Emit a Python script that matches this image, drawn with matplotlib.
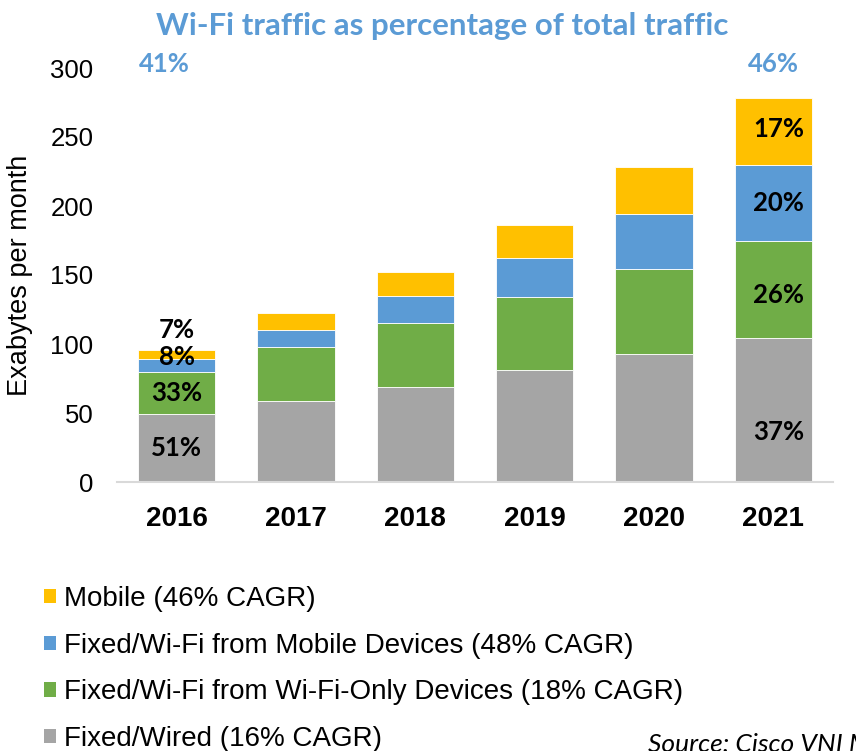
import matplotlib
matplotlib.use("Agg")
import matplotlib.pyplot as plt
from matplotlib.patches import Patch
import numpy as np

years = ["2016", "2017", "2018", "2019", "2020", "2021"]
wired = [49, 59, 69, 81, 93, 104]
wifi_only = [31, 39, 46, 53, 61, 71]
wifi_mobile = [9, 12, 19.5, 28, 40, 55]
mobile = [7, 12.5, 17.5, 24, 34, 48]

series_names = ["Fixed/Wired (16% CAGR)",
                "Fixed/Wi-Fi from Wi-Fi-Only Devices (18% CAGR)",
                "Fixed/Wi-Fi from Mobile Devices (48% CAGR)",
                "Mobile (46% CAGR)"]
colors = ["#A5A5A5", "#70AD47", "#5B9BD5", "#FFC000"]

labels_2016 = ["51%", "33%", "8%", "7%"]
labels_2021 = ["37%", "26%", "20%", "17%"]
wifi_share = ["41%", "46%"]

ARIAL = ["Liberation Sans", "DejaVu Sans"]
CAL = ["Lato", "DejaVu Sans"]

fig = plt.figure(figsize=(8.56, 7.51), dpi=100)
ax = fig.add_axes([117/856, 1-482/751, (833-117)/856, (482-68)/751])

x = np.arange(len(years))
series = [wired, wifi_only, wifi_mobile, mobile]
bottom = np.zeros(len(years))
for vals, c, name in zip(series, colors, series_names):
    ax.bar(x, vals, 0.65, bottom=bottom, color=c, label=name,
           edgecolor="white", linewidth=0.6)
    bottom += np.array(vals)

ax.set_xlim(-0.5, 5.5)
ax.set_ylim(0, 300)
ax.set_yticks([0, 50, 100, 150, 200, 250, 300])
ax.set_xticks(x)
ax.set_xticklabels(years, fontfamily=ARIAL, fontweight="bold", fontsize=20)
ax.tick_params(axis="x", length=0, pad=17)
ax.tick_params(axis="y", length=0, pad=17, labelsize=18.5)
for t in ax.get_yticklabels():
    t.set_fontfamily(ARIAL)
for s in ["top", "right", "left"]:
    ax.spines[s].set_visible(False)
ax.spines["bottom"].set_color("#D9D9D9")
ax.spines["bottom"].set_linewidth(1.5)
ax.set_ylabel("Exabytes per month", fontfamily=ARIAL, fontsize=19.5)
ax.yaxis.set_label_coords(-0.117, 0.5)

FS = 18.5
# data labels 2016
cum16 = np.cumsum([s[0] for s in series])
ax.text(0, wired[0]/2, labels_2016[0], ha="center", va="center",
        fontfamily=CAL, fontweight="bold", fontsize=FS)
ax.text(0, wired[0] + wifi_only[0]/2, labels_2016[1], ha="center", va="center",
        fontfamily=CAL, fontweight="bold", fontsize=FS)
ax.text(0, cum16[2] + 1.5, labels_2016[2], ha="center", va="center",
        fontfamily=CAL, fontweight="bold", fontsize=FS)
ax.text(0, cum16[3] + 14, labels_2016[3], ha="center", va="center",
        fontfamily=CAL, fontweight="bold", fontsize=FS)

# data labels 2021
cum21 = np.cumsum([s[5] for s in series])
xr = 5 + 0.26
ax.text(xr, 36, labels_2021[0], ha="right", va="center",
        fontfamily=CAL, fontweight="bold", fontsize=FS)
ax.text(xr, cum21[0] + wifi_only[5]/2 - 4, labels_2021[1], ha="right", va="center",
        fontfamily=CAL, fontweight="bold", fontsize=FS)
ax.text(xr, cum21[1] + wifi_mobile[5]/2, labels_2021[2], ha="right", va="center",
        fontfamily=CAL, fontweight="bold", fontsize=FS)
ax.text(xr, cum21[2] + mobile[5]/2 + 2, labels_2021[3], ha="right", va="center",
        fontfamily=CAL, fontweight="bold", fontsize=FS)

# title and Wi-Fi shares
blue = "#5B9BD5"
fig.text(442/856, 1-26/751, "Wi-Fi traffic as percentage of total traffic",
         ha="center", va="center", color=blue, fontfamily=CAL,
         fontweight="bold", fontsize=22.5)
ax.text(-0.1, 303, wifi_share[0], ha="center", va="center", color=blue,
        fontfamily=CAL, fontweight="bold", fontsize=18.5)
ax.text(5.0, 303, wifi_share[1], ha="center", va="center", color=blue,
        fontfamily=CAL, fontweight="bold", fontsize=18.5)

# legend
handles = [Patch(facecolor=c, edgecolor="none") for c in colors[::-1]]
leg = fig.legend(handles, series_names[::-1], loc="upper left",
                 bbox_to_anchor=(33/856, 1-575/751), frameon=False,
                 prop={"family": ARIAL, "size": 20},
                 handlelength=0.42, handleheight=0.42, handletextpad=0.3,
                 labelspacing=0.74, borderaxespad=0)

fig.text(648/856, 1-744/751, "Source: Cisco VNI Mobile, 2017", ha="left",
         va="center", fontfamily=CAL, fontstyle="italic", fontsize=19)

fig.savefig("out.png", dpi=100)
